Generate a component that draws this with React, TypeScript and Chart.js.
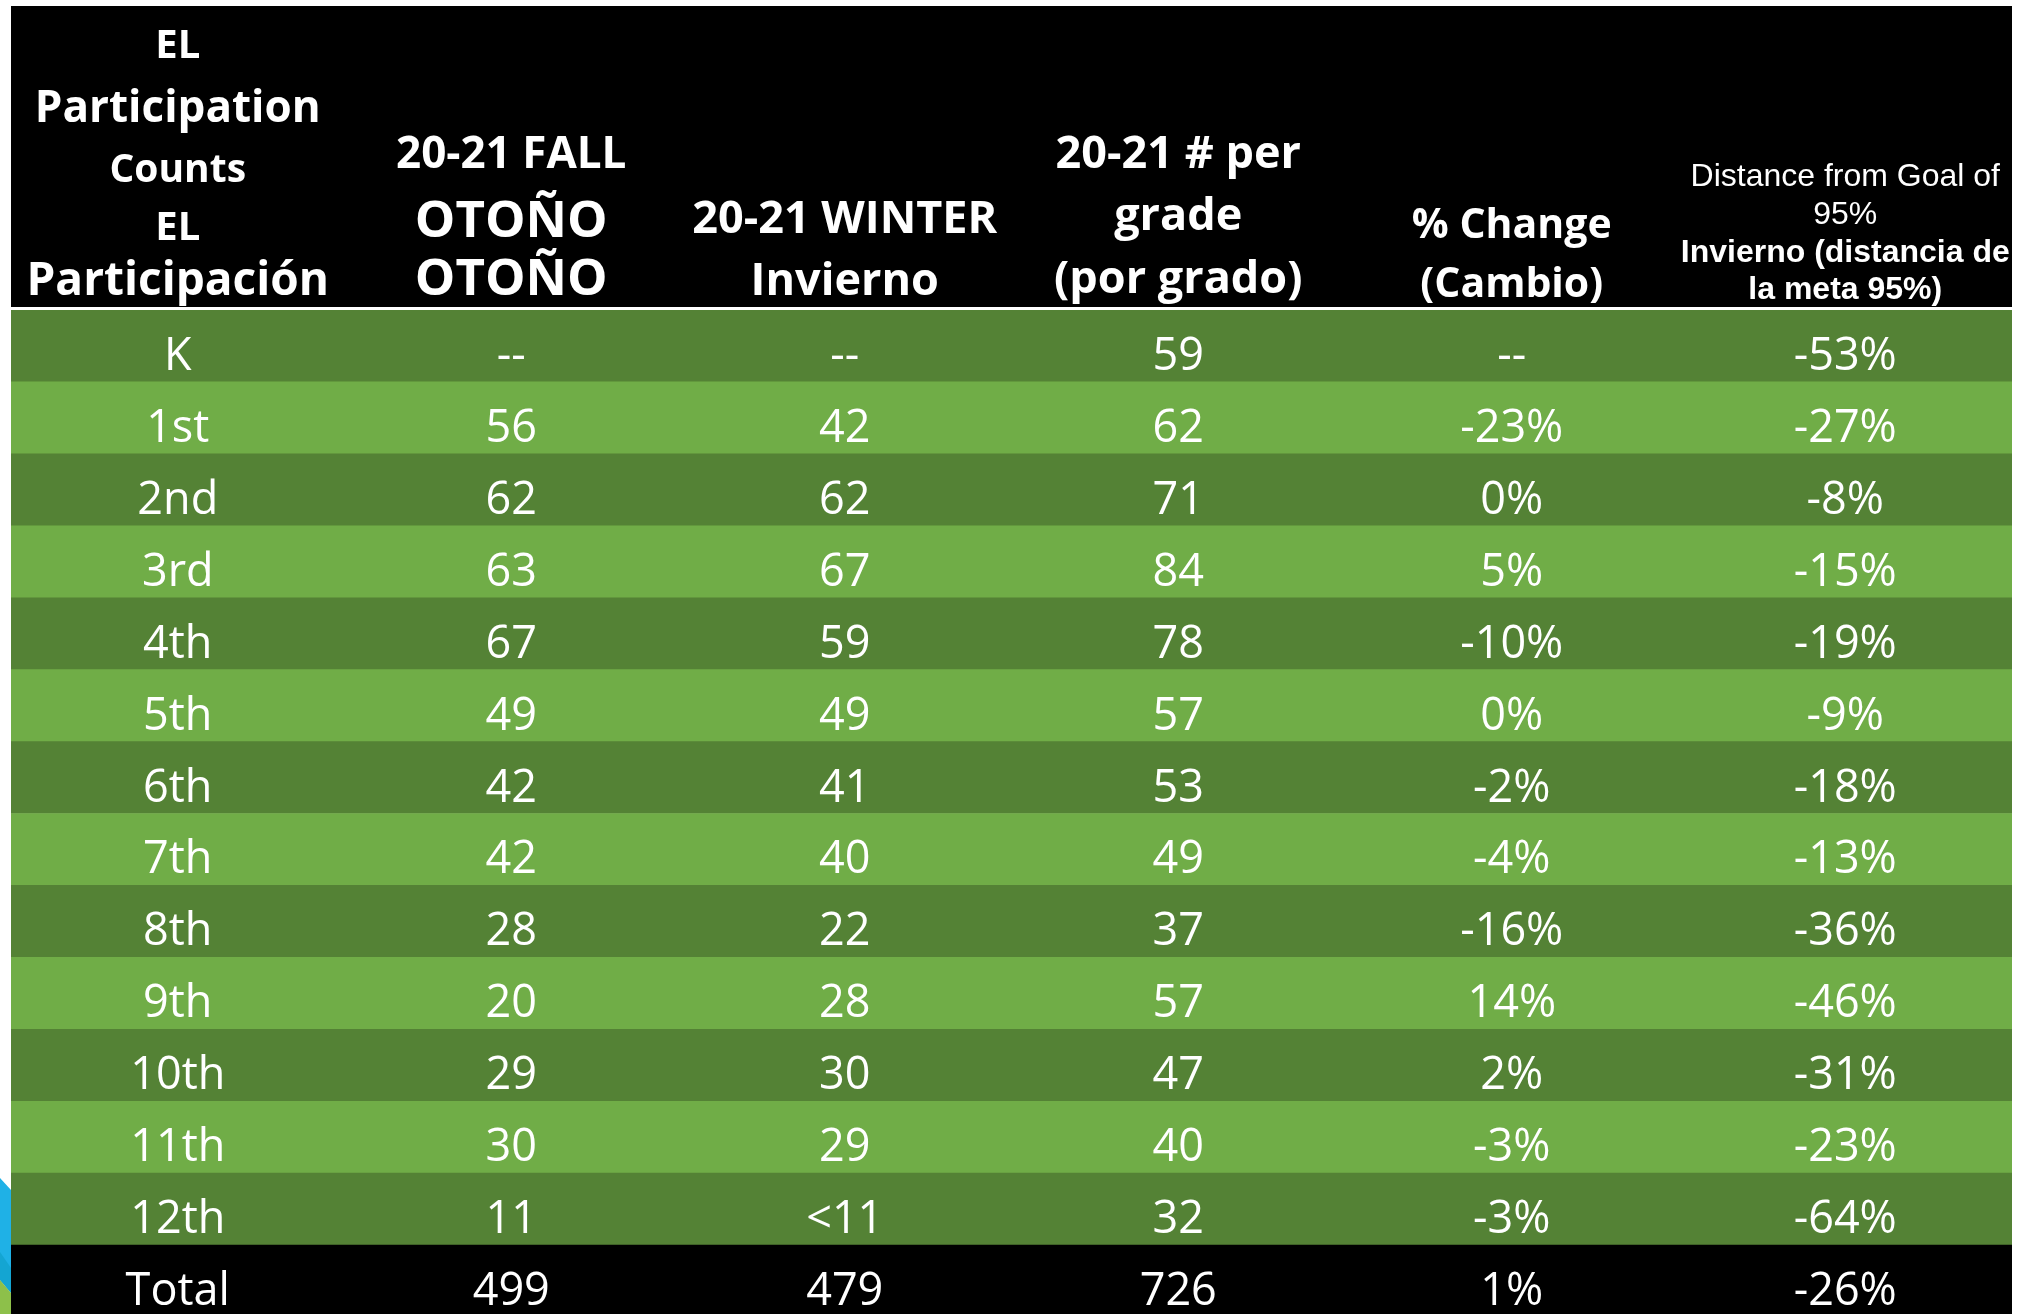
import React, { useEffect, useRef } from 'react';
import { Chart, registerables } from 'chart.js';

Chart.register(...registerables);

// ---------- data ----------
const grades = ['K', '1st', '2nd', '3rd', '4th', '5th', '6th', '7th', '8th', '9th', '10th', '11th', '12th', 'Total'];
const fallCounts = ['--', '56', '62', '63', '67', '49', '42', '42', '28', '20', '29', '30', '11', '499'];
const winterCounts = ['--', '42', '62', '67', '59', '49', '41', '40', '22', '28', '30', '29', '<11', '479'];
const perGrade = ['59', '62', '71', '84', '78', '57', '53', '49', '37', '57', '47', '40', '32', '726'];
const pctChange = ['--', '-23%', '0%', '5%', '-10%', '0%', '-2%', '-4%', '-16%', '14%', '2%', '-3%', '-3%', '1%'];
const distanceFromGoal = ['-53%', '-27%', '-8%', '-15%', '-19%', '-9%', '-18%', '-13%', '-36%', '-46%', '-31%', '-23%', '-64%', '-26%'];

const headerGrade = ['EL', 'Participation', 'Counts', 'EL', 'Participación'];
const headerFall = ['20-21 FALL', 'OTOÑO', 'OTOÑO'];
const headerWinter = ['20-21 WINTER', 'Invierno'];
const headerPerGrade = ['20-21 # per', 'grade', '(por grado)'];
const headerChange = ['% Change', '(Cambio)'];
const headerDistance = ['Distance from Goal of', '95%', 'Invierno (distancia de', 'la meta 95%)'];

// ---------- styles / layout ----------
const DARK = '#548235';
const LIGHT = '#70AD47';
const BODY_FONT = '"Open Sans", "Noto Sans", sans-serif';
const ARIAL = '"Liberation Sans", Arial, sans-serif';
const HEADER_TOP = 6;
const HEADER_GAP = 3;
const BODY_BASELINE_OFFSET = 24;

type HLine = { text: string; size: number; weight: string; family: string; baseline: number };

const headerColumns: HLine[][] = [
  headerGrade.map((t, i) => ({ text: t, size: [40, 44, 39, 40, 46][i], weight: 'bold', family: BODY_FONT, baseline: [58, 122, 182, 240, 295][i] })),
  headerFall.map((t, i) => ({ text: t, size: [44, 51, 51][i], weight: 'bold', family: BODY_FONT, baseline: [168, 237, 295][i] })),
  headerWinter.map((t, i) => ({ text: t, size: 45, weight: 'bold', family: BODY_FONT, baseline: [233, 295][i] })),
  headerPerGrade.map((t, i) => ({ text: t, size: 45, weight: 'bold', family: BODY_FONT, baseline: [168, 230, 293][i] })),
  headerChange.map((t, i) => ({ text: t, size: 41, weight: 'bold', family: BODY_FONT, baseline: [238, 297][i] })),
  headerDistance.map((t, i) => ({ text: t, size: 32, weight: i < 2 ? 'normal' : 'bold', family: ARIAL, baseline: [186, 224, 262, 299][i] })),
];

const bodyColumns = [grades, fallCounts, winterCounts, perGrade, pctChange, distanceFromGoal];

const tablePlugin = {
  id: 'tableText',
  beforeDatasetsDraw(chart: any) {
    const { ctx, chartArea, scales } = chart;
    const xs = scales.x;
    ctx.save();
    ctx.fillStyle = '#000000';
    ctx.fillRect(chartArea.left, HEADER_TOP, chartArea.right - chartArea.left, chartArea.top - HEADER_GAP - HEADER_TOP);
    ctx.fillStyle = '#FFFFFF';
    ctx.textAlign = 'center';
    ctx.textBaseline = 'alphabetic';
    headerColumns.forEach((lines, j) => {
      const cx = xs.getPixelForValue(j + 0.5);
      lines.forEach((ln) => {
        ctx.font = `${ln.weight} ${ln.size}px ${ln.family}`;
        ctx.fillText(ln.text, cx, ln.baseline);
      });
    });
    ctx.restore();
  },
  afterDatasetsDraw(chart: any) {
    const { ctx, scales, chartArea } = chart;
    const xs = scales.x;
    const ys = scales.y;
    ctx.save();
    ctx.beginPath();
    ctx.rect(chartArea.left, chartArea.top, chartArea.right - chartArea.left, chartArea.bottom - chartArea.top);
    ctx.clip();
    ctx.fillStyle = '#FFFFFF';
    ctx.textAlign = 'center';
    ctx.textBaseline = 'alphabetic';
    ctx.font = `45px ${BODY_FONT}`;
    bodyColumns.forEach((col, j) => {
      const cx = xs.getPixelForValue(j + 0.5);
      col.forEach((txt, i) => {
        const cy = ys.getPixelForValue(i);
        ctx.fillText(txt, cx, cy + BODY_BASELINE_OFFSET);
      });
    });
    ctx.restore();
  },
  afterDraw(chart: any) {
    // slide background decoration peeking out at the left edge
    const { ctx, chartArea } = chart;
    const w = chartArea.left;
    ctx.save();
    ctx.fillStyle = '#1FB1E6';
    ctx.beginPath();
    ctx.moveTo(0, 1178);
    ctx.lineTo(w, 1190);
    ctx.lineTo(w, 1293);
    ctx.lineTo(0, 1280);
    ctx.closePath();
    ctx.fill();
    ctx.fillStyle = '#14A5D2';
    ctx.beginPath();
    ctx.moveTo(0, 1252);
    ctx.lineTo(w, 1268);
    ctx.lineTo(w, 1293);
    ctx.lineTo(0, 1280);
    ctx.closePath();
    ctx.fill();
    ctx.fillStyle = '#8DC04A';
    ctx.beginPath();
    ctx.moveTo(0, 1280);
    ctx.lineTo(w, 1293);
    ctx.lineTo(w, 1320);
    ctx.lineTo(0, 1320);
    ctx.closePath();
    ctx.fill();
    ctx.restore();
  },
};

export default function App() {
  const canvasRef = useRef<HTMLCanvasElement | null>(null);

  useEffect(() => {
    document.body.style.margin = '0';
    document.body.style.overflow = 'hidden';
    const canvas = canvasRef.current;
    if (!canvas) return;
    const rowColors = grades.map((_, i) => (i === grades.length - 1 ? '#000000' : i % 2 === 0 ? DARK : LIGHT));
    const chart = new Chart(canvas, {
      type: 'bar',
      data: {
        labels: grades,
        datasets: [
          {
            data: grades.map(() => [0, bodyColumns.length]) as any,
            backgroundColor: rowColors,
            borderWidth: 0,
            barPercentage: 1,
            categoryPercentage: 1,
          },
        ],
      },
      options: {
        indexAxis: 'y',
        responsive: false,
        animation: false,
        devicePixelRatio: 1,
        layout: { padding: { left: 11, right: 22, top: 310, bottom: 3 } },
        scales: {
          x: { type: 'linear', min: 0, max: bodyColumns.length, display: false },
          y: { type: 'category', offset: true, display: false },
        },
        plugins: { legend: { display: false }, tooltip: { enabled: false } },
        events: [],
      },
      plugins: [tablePlugin],
    });
    const fontsToLoad = [
      `bold 45px "Open Sans"`,
      `45px "Open Sans"`,
      `32px "Liberation Sans"`,
      `bold 32px "Liberation Sans"`,
    ];
    Promise.all(fontsToLoad.map((f) => (document as any).fonts.load(f)))
      .then(() => chart.draw())
      .catch(() => {});
    return () => chart.destroy();
  }, []);

  return (
    <div style={{ position: 'fixed', left: 0, top: 0, width: 2034, height: 1314, overflow: 'hidden', background: '#FFFFFF' }}>
      <canvas ref={canvasRef} width={2034} height={1320} style={{ display: 'block', width: 2034, height: 1320 }} />
    </div>
  );
}
